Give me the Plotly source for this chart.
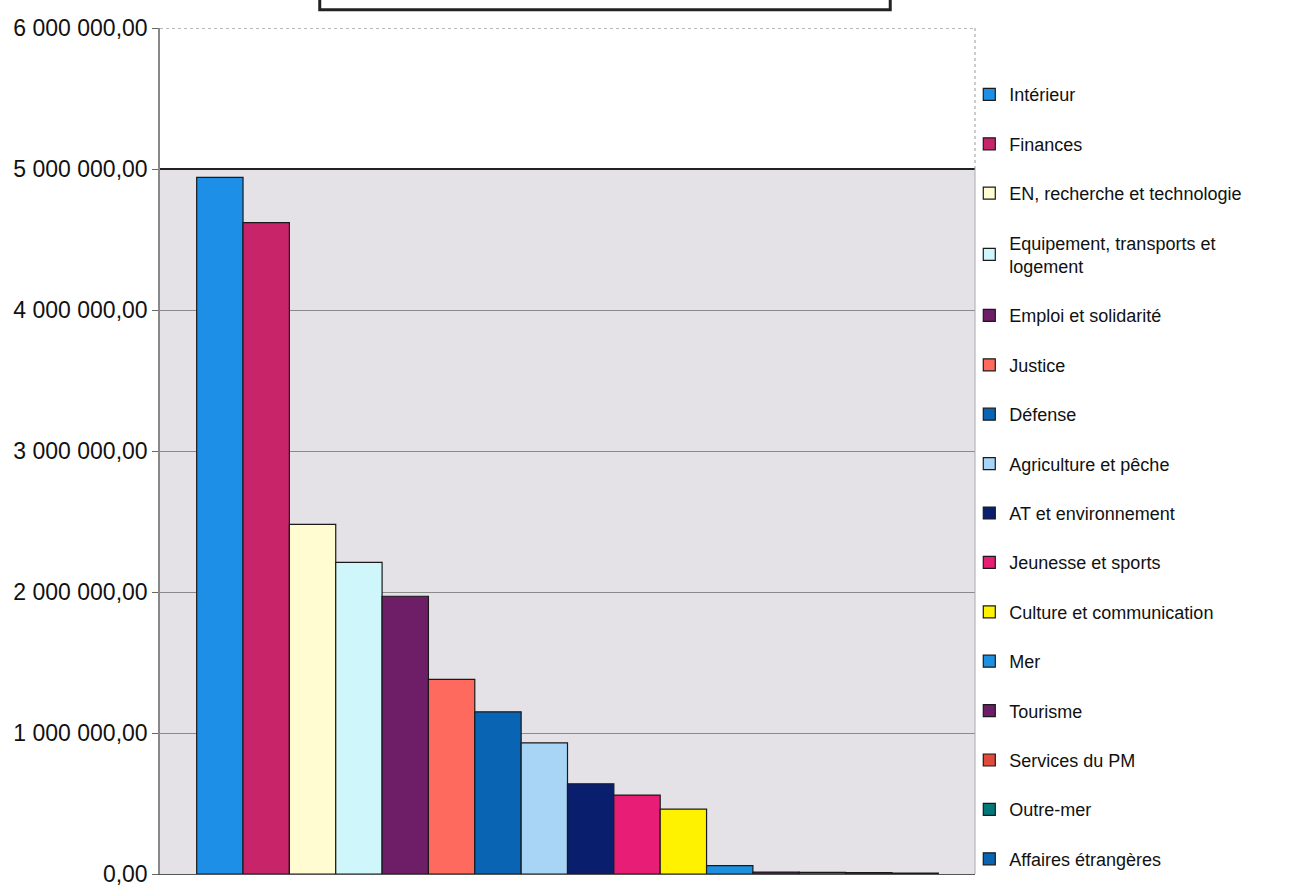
import plotly.graph_objects as go

categories = ["Intérieur", "Finances", "EN, recherche et technologie",
              "Equipement, transports et<br>logement", "Emploi et solidarité",
              "Justice", "Défense", "Agriculture et pêche", "AT et environnement",
              "Jeunesse et sports", "Culture et communication", "Mer", "Tourisme",
              "Services du PM", "Outre-mer", "Affaires étrangères"]
values = [4940000, 4620000, 2480000, 2210000, 1970000, 1380000, 1150000, 930000,
          640000, 560000, 460000, 60000, 14000, 12000, 10000, 6000]
bar_colors = ["#1E8FE6", "#C8246A", "#FFFCD2", "#CFF6FA", "#6E1E66", "#FF6A5E",
              "#0A64B4", "#A8D4F6", "#0A1E6E", "#E81E76", "#FFF200", "#1E90E0",
              "#6E1E66", "#E04A3A", "#007878", "#0A64B4"]
y_ticks = [0, 1000000, 2000000, 3000000, 4000000, 5000000, 6000000]

FONT = "Liberation Sans, Arial, sans-serif"

fig = go.Figure()
for i, (name, val, col) in enumerate(zip(categories, values, bar_colors)):
    fig.add_trace(go.Bar(
        x=[""], y=[val], name=name, legendgroup=str(i),
        marker=dict(color=col, line=dict(color="#1a1a1a", width=1.2)),
    ))

fig.update_layout(
    width=1316, height=892,
    margin=dict(l=160, r=341, t=28, b=18, autoexpand=False),
    paper_bgcolor="white", plot_bgcolor="white",
    barmode="group", bargap=0.09, bargroupgap=0,
    separators=", ",
    font=dict(family=FONT, size=20, color="#111"),
    showlegend=True,
    legend=dict(x=0.993, y=0.943, xanchor="left", yanchor="top",
                font=dict(family=FONT, size=18, color="#111"),
                tracegroupgap=23, itemwidth=30, bgcolor="rgba(0,0,0,0)",
                maxheight=890),
    xaxis=dict(showticklabels=False, ticks="", showgrid=False, showline=True,
               linecolor="#555", linewidth=1, zeroline=False),
    yaxis=dict(range=[0, 6000000], tickvals=y_ticks, tickformat=",.2f",
               showgrid=True, gridcolor="#8a8a8a", gridwidth=1,
               showline=True, linecolor="#888", linewidth=1.5,
               ticks="outside", ticklen=6, tickcolor="#666",
               zeroline=False, tickfont=dict(family=FONT, size=23, color="#111")),
)

shapes = [
    dict(type="rect", xref="paper", yref="y", x0=0, x1=1, y0=0, y1=5000000,
         fillcolor="#E4E2E7", line=dict(width=0), layer="below"),
    dict(type="line", xref="paper", yref="y", x0=0, x1=1, y0=5000000, y1=5000000,
         line=dict(color="#222", width=2), layer="above"),
    dict(type="line", xref="paper", yref="y", x0=0, x1=1, y0=6000000, y1=6000000,
         line=dict(color="#777", width=1, dash="dot"), layer="above"),
    dict(type="line", xref="paper", yref="y", x0=1, x1=1, y0=5000000, y1=6000000,
         line=dict(color="#999", width=1, dash="dot"), layer="above"),
    dict(type="line", xref="paper", yref="y", x0=1, x1=1, y0=0, y1=5000000,
         line=dict(color="#aaa", width=1), layer="above"),
    dict(type="rect", xref="paper", yref="paper", x0=0.196, x1=0.896,
         y0=1.0215, y1=1.06, fillcolor="white", line=dict(color="#222", width=3)),
]
fig.update_layout(shapes=shapes)

fig.write_html("out.html")
